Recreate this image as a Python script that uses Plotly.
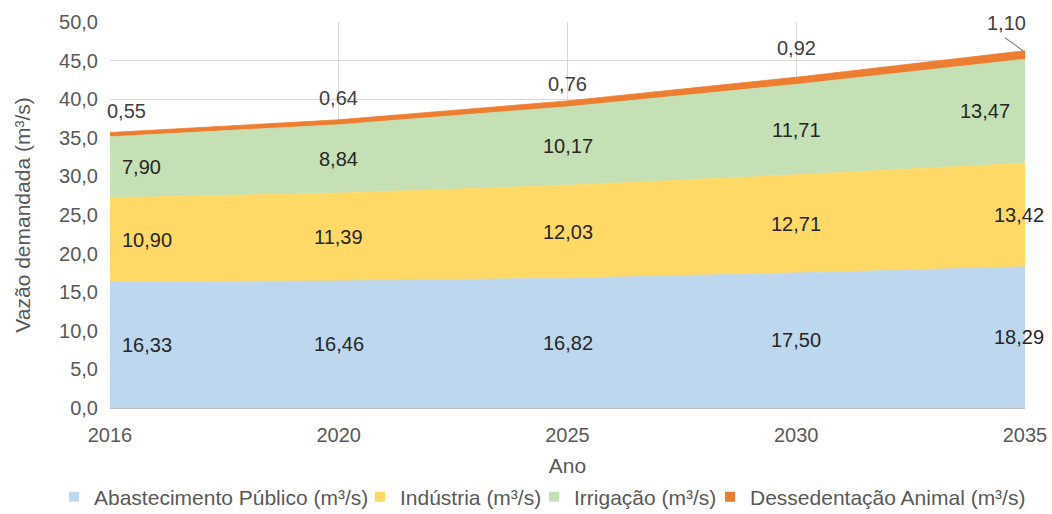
import plotly.graph_objects as go

# Projected water demand by use (m³/s)
anos = ["2016", "2020", "2025", "2030", "2035"]
abastecimento = [16.33, 16.46, 16.82, 17.50, 18.29]
industria = [10.90, 11.39, 12.03, 12.71, 13.42]
irrigacao = [7.90, 8.84, 10.17, 11.71, 13.47]
dessedentacao = [0.55, 0.64, 0.76, 0.92, 1.10]

series = [
    ("Abastecimento Público (m³/s)", abastecimento, "#BDD7EE"),
    ("Indústria (m³/s)", industria, "#FFD966"),
    ("Irrigação (m³/s)", irrigacao, "#C5E0B4"),
    ("Dessedentação Animal (m³/s)", dessedentacao, "#ED7D31"),
]

FONT = "Liberation Sans, Arial, sans-serif"
GREY = "#595959"

fig = go.Figure()

for nome, valores, cor in series:
    fig.add_trace(go.Scatter(
        x=anos, y=valores, name=nome, stackgroup="demanda",
        mode="lines", line=dict(width=0.8, color=cor),
        fillcolor=cor, showlegend=False, hoverinfo="skip",
    ))

# square legend keys, one legend box per series so each entry sits at its own spot
legend_ids = ["legend", "legend2", "legend3", "legend4"]
legend_left = [54, 360, 534, 710]
for (nome, valores, cor), lid in zip(series, legend_ids):
    fig.add_trace(go.Scatter(
        x=[None], y=[None], name=nome, mode="markers",
        marker=dict(symbol="square", size=10, color=cor),
        showlegend=True, legend=lid,
    ))


def fmt(v):
    return f"{v:.2f}".replace(".", ",")


# data labels: centred in each band, first point shifted right, last point left
# (x given as category index)
annotations = []
base = [0.0] * len(anos)
for k, (nome, valores, cor) in enumerate(series[:3]):
    for i, v in enumerate(valores):
        mid = base[i] + v / 2
        xanchor = "center"
        xshift = 0
        if i == 0:
            xanchor, xshift = "left", 10
        elif i == len(anos) - 1:
            xshift = -40 if k == 2 else -6
        annotations.append(dict(
            x=i, y=mid, xref="x", yref="y", text=fmt(v), showarrow=False,
            xanchor=xanchor, xshift=xshift,
            font=dict(family=FONT, size=20, color="#262626"),
        ))
    base = [b + v for b, v in zip(base, valores)]

# labels for the thin top band, placed above the stack
topo = [b + v for b, v in zip(base, dessedentacao)]
ysh = [22, 22, 17, 29, 28]
xsh = [-5, 0, 0, 0, -19]
for i, v in enumerate(dessedentacao):
    annotations.append(dict(
        x=i, y=topo[i], xref="x", yref="y", text=fmt(v), showarrow=False,
        xanchor="left" if i == 0 else "center", xshift=xsh[i],
        yshift=ysh[i],
        font=dict(family=FONT, size=20, color="#404040"),
    ))

# leader line from the last label down to its point
ult = len(anos) - 1
leader = dict(
    type="line", xref="x", yref="y",
    xsizemode="pixel", ysizemode="pixel",
    xanchor=ult, yanchor=topo[ult],
    x0=-20, y0=13, x1=-2, y1=0,
    line=dict(color="#8C8C8C", width=1.2),
)

legend_style = dict(
    orientation="h", xref="container", xanchor="left",
    y=0.033, yref="container", yanchor="middle",
    font=dict(family=FONT, size=21, color=GREY),
    itemwidth=30, bgcolor="rgba(0,0,0,0)",
)

fig.update_layout(
    width=1052, height=514,
    margin=dict(l=110, r=27, t=22, b=106),
    paper_bgcolor="white", plot_bgcolor="white",
    separators=",.",
    font=dict(family=FONT, size=19, color=GREY),
    annotations=annotations,
    shapes=[leader],
    showlegend=True,
    **{lid: dict(legend_style, x=left / 1052) for lid, left in zip(legend_ids, legend_left)},
)

fig.update_xaxes(
    type="category", range=[0, 4], automargin=False,
    showgrid=True, gridcolor="#D9D9D9", gridwidth=1,
    showline=True, linecolor="#BFBFBF", linewidth=1,
    ticks="", ticklabelstandoff=9,
    tickfont=dict(family=FONT, size=20, color=GREY),
    title=dict(text="Ano", font=dict(family=FONT, size=21, color=GREY), standoff=20),
    zeroline=False,
)
fig.update_yaxes(
    range=[0, 50], dtick=5, tickformat=".1f", automargin=False,
    showgrid=True, gridcolor="#D9D9D9", gridwidth=1,
    showline=False, ticks="", ticklabelstandoff=11,
    tickfont=dict(family=FONT, size=20, color=GREY),
    title=dict(text="Vazão demandada (m³/s)", font=dict(family=FONT, size=21, color=GREY), standoff=22),
    zeroline=False,
)

fig.write_html("out.html")
